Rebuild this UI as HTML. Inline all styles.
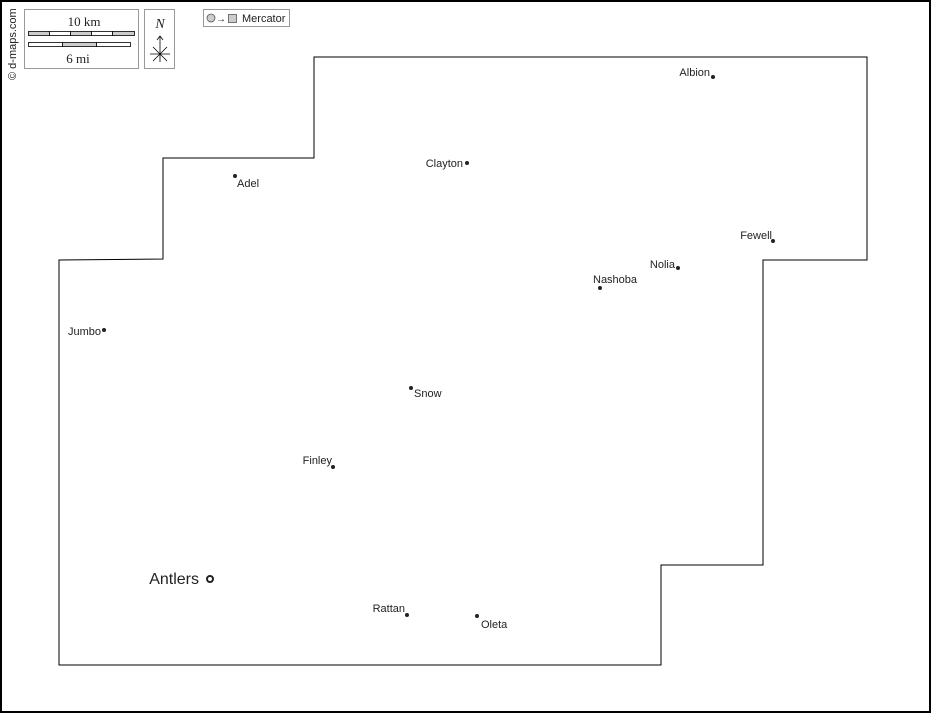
<!DOCTYPE html>
<html><head><style>body{margin:0;background:#fff}svg{display:block}text{font-family:"Liberation Sans",sans-serif;font-size:11px;fill:#222}</style></head><body>
<svg width="931" height="713" viewBox="0 0 931 713" xmlns="http://www.w3.org/2000/svg">
<rect x="1" y="1" width="929" height="711" fill="#fff" stroke="#000" stroke-width="2"/>
<polygon points="314,57 867,57 867,260 763,260 763,565 661,565 661,665 59,665 59,260 163,259 163,158 314,158" fill="#fff" stroke="#000" stroke-width="1"/>
<text transform="translate(16,80) rotate(-90)" style="font-size:11px">© d-maps.com</text>
<rect x="24.5" y="9.5" width="114" height="59" fill="#fff" stroke="#999"/>
<text x="84" y="26" text-anchor="middle" style="font-family:'Liberation Serif',serif;font-size:13px">10 km</text>
<text x="78" y="63" text-anchor="middle" style="font-family:'Liberation Serif',serif;font-size:13px">6 mi</text>
<g stroke="#000" stroke-width="0.8">
<rect x="28.5" y="31.5" width="21" height="4" fill="#ccc"/><rect x="49.5" y="31.5" width="21" height="4" fill="#fff"/><rect x="70.5" y="31.5" width="21" height="4" fill="#ccc"/><rect x="91.5" y="31.5" width="21" height="4" fill="#fff"/><rect x="112.5" y="31.5" width="22" height="4" fill="#ccc"/>
<rect x="28.5" y="42.5" width="34" height="4" fill="#fff"/><rect x="62.5" y="42.5" width="34" height="4" fill="#ccc"/><rect x="96.5" y="42.5" width="34" height="4" fill="#fff"/>
</g>
<rect x="144.5" y="9.5" width="30" height="59" fill="#fff" stroke="#999"/>
<text x="160" y="28" text-anchor="middle" style="font-family:'Liberation Serif',serif;font-size:14px;font-style:italic">N</text>
<g stroke="#000" stroke-width="0.8" fill="none"><line x1="160" y1="36" x2="160" y2="62"/><line x1="150" y1="54" x2="170" y2="54"/><line x1="153" y1="47" x2="167" y2="61"/><line x1="167" y1="47" x2="153" y2="61"/><polyline points="157,40 160,36 163,40"/></g>
<rect x="203.5" y="9.5" width="86" height="17" fill="#fff" stroke="#999"/>
<circle cx="211" cy="18" r="4" fill="#ccc" stroke="#555" stroke-width="0.8"/>
<text x="216" y="22" style="font-size:10px">→</text>
<rect x="228.5" y="14.5" width="8" height="8" fill="#ccc" stroke="#555" stroke-width="0.8"/>
<text x="242" y="22" style="font-size:11px">Mercator</text>
<g fill="#222">
<circle cx="713" cy="77" r="2"/><circle cx="467" cy="163" r="2"/><circle cx="235" cy="176" r="2"/><circle cx="773" cy="241" r="2"/><circle cx="678" cy="268" r="2"/><circle cx="600" cy="288" r="2"/><circle cx="104" cy="330" r="2"/><circle cx="411" cy="388" r="2"/><circle cx="333" cy="467" r="2"/><circle cx="407" cy="615" r="2"/><circle cx="477" cy="616" r="2"/>
</g>
<circle cx="210" cy="579" r="3" fill="#fff" stroke="#222" stroke-width="2"/>
<text x="710" y="76" text-anchor="end">Albion</text>
<text x="463" y="167" text-anchor="end">Clayton</text>
<text x="237" y="187">Adel</text>
<text x="772" y="239" text-anchor="end">Fewell</text>
<text x="675" y="268" text-anchor="end">Nolia</text>
<text x="593" y="283">Nashoba</text>
<text x="101" y="335" text-anchor="end">Jumbo</text>
<text x="414" y="397">Snow</text>
<text x="332" y="464" text-anchor="end">Finley</text>
<text x="199" y="584" text-anchor="end" style="font-size:16px">Antlers</text>
<text x="405" y="612" text-anchor="end">Rattan</text>
<text x="481" y="628">Oleta</text>
</svg>
</body></html>
